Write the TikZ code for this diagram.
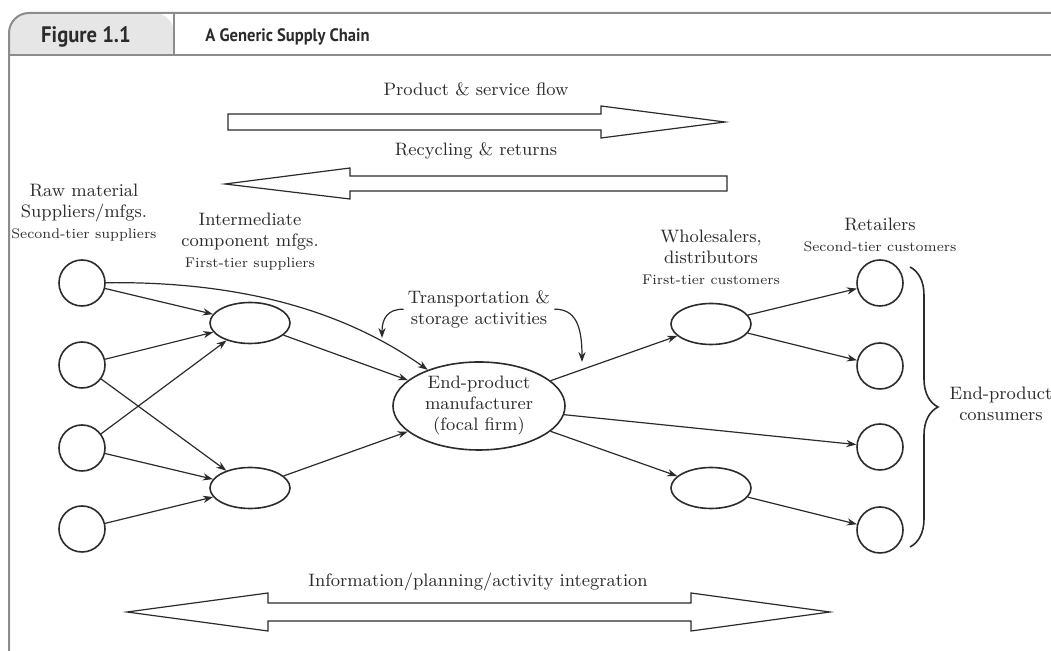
\documentclass[tikz,border=0pt]{standalone}
\usepackage{fontspec}
\newfontfamily\headfont[FakeStretch=0.92]{PT Sans}
\usetikzlibrary{arrows.meta}
\usetikzlibrary{shapes.geometric}
\usetikzlibrary{decorations.pathreplacing}

\definecolor{framegrey}{HTML}{8C8C8C}
\definecolor{headgrey}{HTML}{E6E6E6}
\definecolor{inkgrey}{HTML}{2B2B2B}

\newcommand{\tierfont}{\fontsize{7}{8}\selectfont}

\tikzset{
  lbl/.style={font=\fontsize{9}{10.5}\selectfont, text=inkgrey, align=center, inner sep=0pt},
  firm/.style={draw=inkgrey, circle, minimum size=23pt, inner sep=0pt, line width=0.8pt},
  tier/.style={draw=inkgrey, ellipse, minimum width=40pt, minimum height=20.5pt, inner sep=0pt, line width=0.8pt},
  focalfirm/.style={lbl, draw=inkgrey, ellipse, minimum width=86pt, minimum height=44pt, line width=0.8pt},
  link/.style={->, draw=inkgrey, line width=0.6pt},
  fatarrow/.style={draw=inkgrey, line width=0.6pt, fill=white},
  frameline/.style={draw=framegrey, line width=1pt},
}

\begin{document}
\begin{tikzpicture}[x=0.5pt, y=-0.5pt, >={Stealth[length=5pt,width=3.6pt]}]
\useasboundingbox (0,0) rectangle (1051,651);

% frame and header
\fill[headgrey] (9,55) [rounded corners=10pt] -- (9,13) -- (174,13) [sharp corners] -- (174,55) -- cycle;
\draw[frameline] (9,660) [rounded corners=10pt] -- (9,13) -- (1060,13);
\draw[frameline] (9,55) -- (1060,55);
\draw[frameline] (174,13) -- (174,55);
\node[font=\headfont\bfseries\fontsize{11.2}{13}\selectfont, text=inkgrey, anchor=base] (fignum) at (86,43) {Figure 1.1};
\node[font=\headfont\bfseries\fontsize{9}{11}\selectfont, text=inkgrey, anchor=base west, inner sep=0pt] (figtitle) at (205,42) {A Generic Supply Chain};

% flows
\draw[fatarrow] (228,114) -- (601,114) -- (601,106) -- (725,122) -- (601,138) -- (601,130) -- (228,130) -- cycle;
\node[lbl, anchor=base] (prodlbl) at (476,96) {Product \& service flow};
\draw[fatarrow] (727,176) -- (350,176) -- (350,168) -- (225,184) -- (350,199) -- (350,191) -- (727,191) -- cycle;
\node[lbl, anchor=base] (recyclbl) at (476,156) {Recycling \& returns};
\draw[fatarrow] (127,612) -- (268,593) -- (268,603) -- (691,603) -- (691,593) -- (830,612) -- (691,631) -- (691,621) -- (268,621) -- (268,631) -- cycle;
\node[lbl, anchor=base] (infolbl) at (478,587) {Information/planning/activity integration};

% tier labels
\node[lbl, anchor=north] (rawlbl) at (84,184) {Raw material\\Suppliers/mfgs.\\{\tierfont Second-tier suppliers}};
\node[lbl, anchor=north] (interlbl) at (250,213) {Intermediate\\component mfgs.\\{\tierfont First-tier suppliers}};
\node[lbl, anchor=north] (wholelbl) at (711,230) {Wholesalers,\\distributors\\{\tierfont First-tier customers}};
\node[lbl, anchor=north] (retaillbl) at (880,218) {Retailers\\{\tierfont Second-tier customers}};
\node[lbl, anchor=north, inner sep=2pt] (transplbl) at (479,286) {Transportation \&\\storage activities};
\node[lbl, anchor=north] (consumers) at (1001,387) {End-product\\consumers};

% firms
\node[firm] (l1) at (82,283) {};
\node[firm] (l2) at (82,365) {};
\node[firm] (l3) at (82,448) {};
\node[firm] (l4) at (82,529) {};
\node[tier] (i1) at (250,323) {};
\node[tier] (i2) at (250,488) {};
\node[focalfirm] (focal) at (479,406) {End-product\\manufacturer\\(focal firm)};
\node[tier] (w1) at (711,324) {};
\node[tier] (w2) at (711,488) {};
\node[firm] (r1) at (880,283) {};
\node[firm] (r2) at (880,366) {};
\node[firm] (r3) at (880,447) {};
\node[firm] (r4) at (880,530) {};

% links
\draw[link] (l1) -- (i1);
\draw[link] (l1) .. controls (250,281) and (350,315) .. (focal);
\draw[link] (l2) -- (i1);
\draw[link] (l2) -- (i2);
\draw[link] (l3) -- (i1);
\draw[link] (l3) -- (i2);
\draw[link] (l4) -- (i2);
\draw[link] (i1) -- (focal);
\draw[link] (i2) -- (focal);
\draw[link] (focal) -- (w1);
\draw[link] (focal) -- (r3);
\draw[link] (focal) -- (w2);
\draw[link] (w1) -- (r1);
\draw[link] (w1) -- (r2);
\draw[link] (w2) -- (r4);

% transport pointers
\coordinate (tl) at (382,338);
\coordinate (tr) at (582,362);
\draw[link] (transplbl.west) .. controls (388,309) and (382,318) .. (tl);
\draw[link] (transplbl.east) .. controls (575,309) and (582,325) .. (tr);

% consumers brace
\draw[decorate, decoration={brace, amplitude=14pt}, draw=inkgrey, line width=0.8pt] (910,267) -- (910,547);
\end{tikzpicture}
\end{document}
